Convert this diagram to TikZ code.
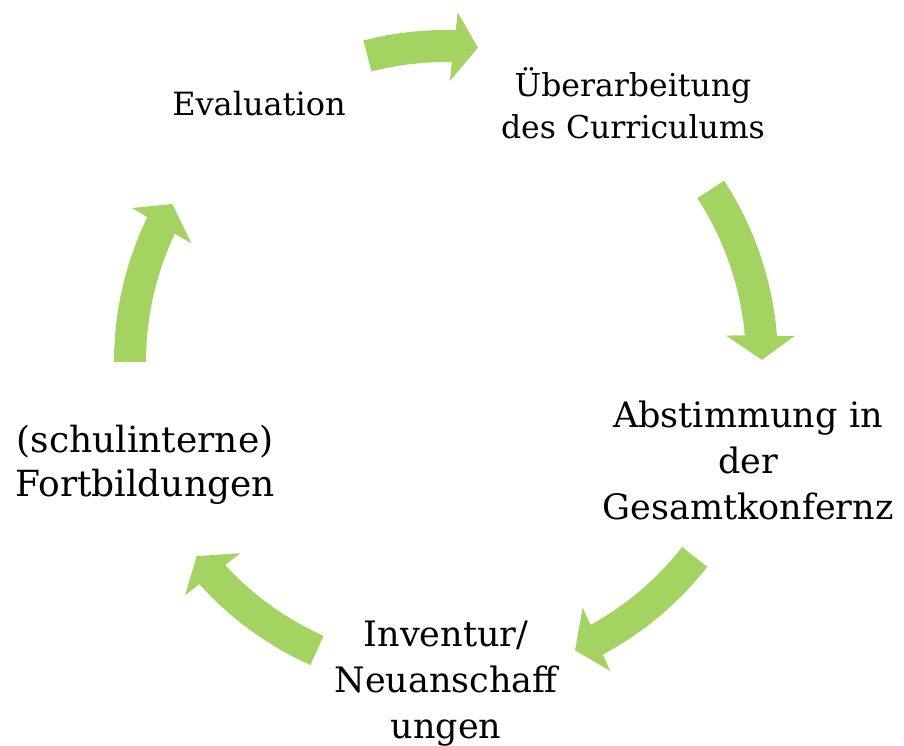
\documentclass[tikz,border=0pt]{standalone}
\usepackage{fontspec}
\setmainfont{DejaVu Serif}
\usetikzlibrary{calc}
\definecolor{arrowgreen}{HTML}{A3D462}
\newcommand{\cyclearrow}[2]{% tail angle, tip angle
  \fill[arrowgreen] ($(C)+(#1:332pt)$)
    arc[start angle=#1, end angle={#2+4.1}, radius=332pt]
    -- ($(C)+({#2+3.9}:350pt)$)
    -- ($(C)+(#2:316pt)$)
    -- ($(C)+({#2+5.0}:281pt)$)
    -- ($(C)+({#2+4.7}:300pt)$)
    arc[start angle={#2+4.7}, end angle=#1, radius=300pt]
    -- cycle;}
\begin{document}
\begin{tikzpicture}[x=1pt,y=1pt,
  lbl/.style={align=center, inner sep=0pt, text=black},
  bigtxt/.style={lbl, font=\fontsize{35}{46}\selectfont},
  midtxt/.style={lbl, font=\fontsize{36}{44}\selectfont},
  smalltxt/.style={lbl, font=\fontsize{32}{42}\selectfont}]
\useasboundingbox (0,0) rectangle (904,745);
\coordinate (C) at (446,383);
\cyclearrow{104.4}{84.2}
\cyclearrow{33.1}{0.4}
\cyclearrow{-38.1}{-65.9}
\cyclearrow{-114.1}{-142.1}
\cyclearrow{-180}{-210}
\node[smalltxt] (eval) at (259,641) {Evaluation};
\node[font=\fontsize{31.5}{42}\selectfont, lbl] (ueber) at (633,642) {Überarbeitung\\des Curriculums};
\node[bigtxt] (abst) at (748,285) {Abstimmung in\\der\\Gesamtkonfernz};
\node[bigtxt] (inv) at (446,61) {Inventur/\\Neuanschaff\\ungen};
\node[midtxt] (fort) at (145,280) {(schulinterne)\\Fortbildungen};
\end{tikzpicture}
\end{document}
